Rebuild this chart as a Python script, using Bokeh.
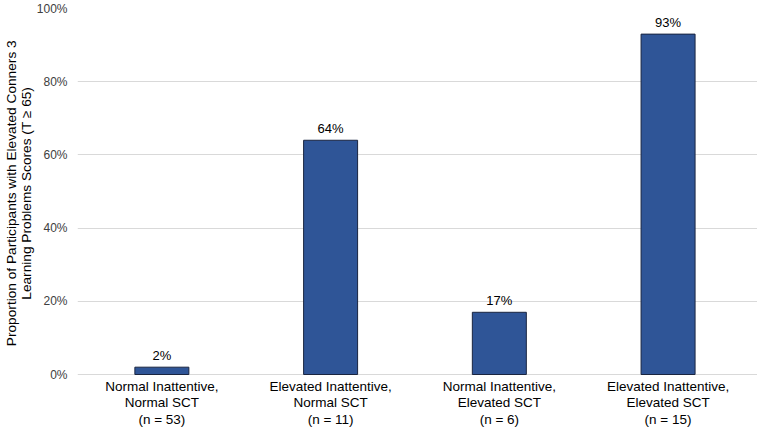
from bokeh.plotting import figure
from bokeh.models import ColumnDataSource, FixedTicker, Range1d
from bokeh.embed import file_html
from bokeh.resources import INLINE
from bokeh.core.properties import value

groups = ["Normal Inattentive,\nNormal SCT\n(n = 53)",
          "Elevated Inattentive,\nNormal SCT\n(n = 11)",
          "Normal Inattentive,\nElevated SCT\n(n = 6)",
          "Elevated Inattentive,\nElevated SCT\n(n = 15)"]
percent = [2, 64, 17, 93]
y_ticks = [0, 20, 40, 60, 80, 100]
y_title_lines = ["Proportion of Participants with Elevated Conners 3",
                 "Learning Problems Scores (T \u2265 65)"]

xs = list(range(len(groups)))
src = ColumnDataSource(dict(x=xs, top=percent,
                            label=[f"{v}%" for v in percent]))
cat_src = ColumnDataSource(dict(x=xs, y=[0] * len(xs), text=groups))

# frame extends below 0 so the category labels can be drawn inside it
p = figure(width=757, height=427, output_backend="svg", toolbar_location=None,
           x_range=Range1d(-0.5, 3.53), y_range=Range1d(-14.48, 100),
           min_border_left=72, min_border_right=0, min_border_top=8,
           min_border_bottom=0)
p.outline_line_color = None
p.background_fill_color = "white"

p.vbar(x="x", top="top", width=0.32, bottom=0, source=src,
       fill_color="#2F5597", line_color="#1a2540", line_width=1)
p.text(x="x", y="top", text="label", source=src, text_align="center",
       text_baseline="bottom", y_offset=-4, text_font=value("Liberation Sans"),
       text_font_size="13px", text_color="#000000")
p.text(x="x", y="y", text="text", source=cat_src, text_align="center",
       text_baseline="top", y_offset=4, text_font=value("Liberation Sans"),
       text_font_size="13.5px", text_line_height=1.12, text_color="#000000")

p.xaxis.visible = False
p.xgrid.grid_line_color = None

p.yaxis.ticker = FixedTicker(ticks=y_ticks)
p.yaxis.major_label_overrides = {t: f"{t}%" for t in y_ticks}
p.yaxis.major_tick_line_color = None
p.yaxis.minor_tick_line_color = None
p.yaxis.major_tick_in = 0
p.yaxis.major_tick_out = 0
p.yaxis.axis_line_color = None
p.yaxis.major_label_text_font = "Liberation Sans"
p.yaxis.major_label_text_font_size = "12px"
p.yaxis.major_label_text_color = "#404040"
p.yaxis.major_label_standoff = 10
# non-breaking spaces nudge the centred label up to the middle of the 0-100% span
pad = "\u00a0" * 13
p.yaxis.axis_label = "\n".join(pad + line for line in y_title_lines)
p.yaxis.axis_label_text_font = "Liberation Sans"
p.yaxis.axis_label_text_font_size = "13.7px"
p.yaxis.axis_label_text_font_style = "normal"
p.yaxis.axis_label_text_line_height = 1.0
p.yaxis.axis_label_text_color = "#000000"
p.yaxis.axis_label_standoff = 0

p.ygrid.ticker = FixedTicker(ticks=y_ticks)
p.ygrid.grid_line_color = "#d9d9d9"
p.ygrid.grid_line_width = 1

open("out.html", "w").write(file_html(p, INLINE))
